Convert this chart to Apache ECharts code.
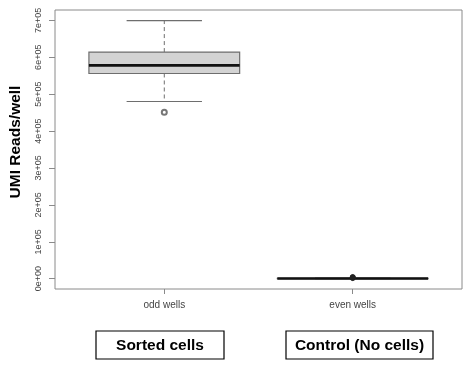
<!DOCTYPE html>
<html><head><meta charset="utf-8">
<script src="https://cdn.jsdelivr.net/npm/echarts@6/dist/echarts.min.js"></script>
<style>html,body{margin:0;padding:0;background:#fff}#c{width:471px;height:365px}</style>
</head><body><div id="c"></div>
<script>
const categories = ['odd wells', 'even wells'];
const positions = [1, 2];
const lowerWhisker = [480000, 0];
const q1 = [556000, 0];
const median = [578000, 300];
const q3 = [614000, 600];
const upperWhisker = [699000, 1200];
const outlierPos = [1, 2, 2, 2, 2];
const outlierVals = [451000, 1500, 2500, 3500, 4500];
const yTicks = [0, 100000, 200000, 300000, 400000, 500000, 600000, 700000];
const yTickLabels = ['0e+00', '1e+05', '2e+05', '3e+05', '4e+05', '5e+05', '6e+05', '7e+05'];
const groupLabels = ['Sorted cells', 'Control (No cells)'];

const boxData = positions.map((p, i) => [p, lowerWhisker[i], q1[i], median[i], q3[i], upperWhisker[i]]);
// many overlapping open circles in the control group render as a solid dark dot
const outData = outlierPos.map((p, i) => p === 2
  ? {value: [p, outlierVals[i]], symbol: 'circle', itemStyle: {color: '#222', borderColor: '#222'}}
  : {value: [p, outlierVals[i]]});

const chart = echarts.init(document.getElementById('c'), null, {renderer: 'canvas'});
const gray = '#8a8a8a';
chart.setOption({
  animation: false,
  grid: {left: 55, right: 9, top: 10, bottom: 76, show: true, borderColor: gray, borderWidth: 1, backgroundColor: 'transparent'},
  xAxis: {
    type: 'value', min: 0.42, max: 2.58,
    splitLine: {show: false},
    axisLine: {show: false, onZero: false},
    axisTick: {show: true, customValues: positions, length: 5, lineStyle: {color: gray}},
    axisLabel: {show: true, customValues: positions, margin: 11, fontSize: 10, color: '#444', fontFamily: 'Liberation Sans',
      formatter: v => categories[positions.indexOf(Math.round(v))] || ''}
  },
  yAxis: {
    type: 'value', min: -28000, max: 728000,
    splitLine: {show: false},
    axisLine: {show: false, onZero: false},
    axisTick: {show: true, customValues: yTicks, length: 6, lineStyle: {color: gray}},
    axisLabel: {show: true, customValues: yTicks, rotate: 90, margin: 12, fontSize: 9, color: '#444', fontFamily: 'Liberation Sans',
      formatter: v => yTickLabels[yTicks.indexOf(v)] || ''}
  },
  series: [
    {
      type: 'custom',
      data: boxData,
      encode: {x: 0, y: [1, 2, 3, 4, 5]},
      renderItem: function (params, api) {
        const x = api.value(0);
        const lo = api.coord([x, api.value(1)]);
        const b1 = api.coord([x, api.value(2)]);
        const md = api.coord([x, api.value(3)]);
        const b3 = api.coord([x, api.value(4)]);
        const hi = api.coord([x, api.value(5)]);
        const bw = api.size([0.8, 0])[0];
        const cw = bw / 2;
        const cx = md[0];
        const lineC = '#6e6e6e';
        return {
          type: 'group',
          children: [
            {type: 'line', shape: {x1: cx, y1: b3[1], x2: cx, y2: hi[1]}, style: {stroke: lineC, lineWidth: 1, lineDash: [4, 3]}},
            {type: 'line', shape: {x1: cx, y1: b1[1], x2: cx, y2: lo[1]}, style: {stroke: lineC, lineWidth: 1, lineDash: [4, 3]}},
            {type: 'line', shape: {x1: cx - cw / 2, y1: hi[1], x2: cx + cw / 2, y2: hi[1]}, style: {stroke: lineC, lineWidth: 1.2}},
            {type: 'line', shape: {x1: cx - cw / 2, y1: lo[1], x2: cx + cw / 2, y2: lo[1]}, style: {stroke: lineC, lineWidth: 1.2}},
            {type: 'rect', shape: {x: cx - bw / 2, y: b3[1], width: bw, height: b1[1] - b3[1]}, style: {fill: '#d3d3d3', stroke: lineC, lineWidth: 1.2}},
            {type: 'line', shape: {x1: cx - bw / 2, y1: md[1], x2: cx + bw / 2, y2: md[1]}, style: {stroke: '#111', lineWidth: 2.6}}
          ]
        };
      },
      z: 2
    },
    {
      type: 'scatter',
      data: outData,
      symbol: 'emptyCircle',
      symbolSize: 5,
      itemStyle: {color: '#555', borderColor: '#555', borderWidth: 1},
      z: 3
    }
  ],
  graphic: [
    {type: 'text', x: 16, y: 142, rotation: Math.PI / 2,
      style: {text: 'UMI Reads/well', font: 'bold 15.5px "Liberation Sans"', fill: '#000', align: 'center', verticalAlign: 'middle'}},
    {type: 'rect', shape: {x: 96, y: 331, width: 128, height: 28}, style: {fill: '#fff', stroke: '#000', lineWidth: 1.2}},
    {type: 'text', x: 160, y: 345.5, style: {text: groupLabels[0], font: 'bold 15.5px "Liberation Sans"', fill: '#000', align: 'center', verticalAlign: 'middle'}},
    {type: 'rect', shape: {x: 286, y: 331, width: 147, height: 28}, style: {fill: '#fff', stroke: '#000', lineWidth: 1.2}},
    {type: 'text', x: 359.5, y: 345.5, style: {text: groupLabels[1], font: 'bold 15.5px "Liberation Sans"', fill: '#000', align: 'center', verticalAlign: 'middle'}}
  ]
});
</script></body></html>
